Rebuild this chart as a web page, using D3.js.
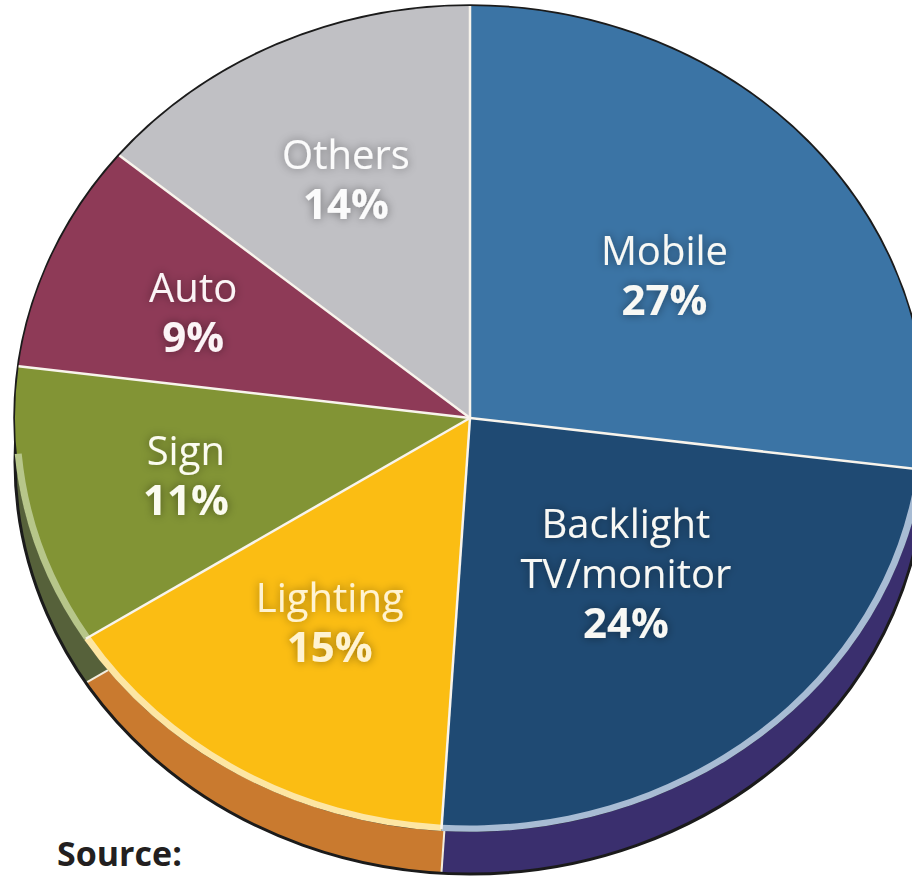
<!DOCTYPE html>
<html>
<head>
<meta charset="utf-8">
<script src="https://cdn.jsdelivr.net/npm/d3@7"></script>
<style>
  body { margin: 0; background: #fff; }
  svg { display: block; font-family: "Open Sans", "Noto Sans", sans-serif; }
</style>
</head>
<body>
<script>
// Data (clockwise from 12 o'clock)
const categories = ["Mobile", "Backlight TV/monitor", "Lighting", "Sign", "Auto", "Others"];
const shares = [27, 24, 15, 11, 9, 14];
const nameLines = [["Mobile"], ["Backlight", "TV/monitor"], ["Lighting"], ["Sign"], ["Auto"], ["Others"]];

// Colours of the top face, the side wall and the rim highlight
const topColors = ["#3b74a5", "#1f4a73", "#fbbd13", "#829435", "#8e3a57", "#c0c0c4"];
const sideColors = ["#2f5f8c", "#3a2f6e", "#c97a2f", "#56613a", "#6b2a40", "#9a9aa0"];
const rimColors = ["#a9c3dc", "#a8bcd4", "#fde6a3", "#b7c68a", "#c98aa0", "#e2e2e6"];
const textColors = ["#f8f8f4", "#f8f8f4", "#fff3d2", "#fbfbf0", "#fbf4f6", "#fbfbfb"];
// where each label sits: fraction of radius and a small turn (degrees) off the mid angle
const labelRadius = [0.55, 0.51, 0.585, 0.64, 0.66, 0.64];
const labelTurn = [2.4, -2.6, 1.2, 0, -0.6, 0];

const width = 912, height = 877;
const cx = 470, cy = 418, r = 455, ry = 412, sy = ry / r, depth = 44;
const lineGap = 50, capH = 29;

const data = categories.map((c, i) => ({ key: c, value: shares[i], i: i }));

const svg = d3.select("body").append("svg")
    .attr("width", width)
    .attr("height", height);

// soft dark glow behind the labels
const filter = svg.append("defs").append("filter")
    .attr("id", "glow")
    .attr("x", "-30%").attr("y", "-40%")
    .attr("width", "160%").attr("height", "180%");
filter.append("feGaussianBlur").attr("in", "SourceAlpha").attr("stdDeviation", 5).attr("result", "b");
filter.append("feFlood").attr("flood-color", "#000").attr("flood-opacity", 0.42);
filter.append("feComposite").attr("in2", "b").attr("operator", "in");
const merge = filter.append("feMerge");
merge.append("feMergeNode");
merge.append("feMergeNode").attr("in", "SourceGraphic");

const pie = d3.pie().sort(null).value(d => d.value);
const arcs = pie(data);
const arc = d3.arc().innerRadius(0).outerRadius(r);

// Side wall: the same pie pushed down by the depth
const side = svg.append("g")
    .attr("transform", `translate(${cx},${cy + depth}) scale(1,${sy})`);

side.selectAll("path.side")
    .data(arcs)
    .join("path")
    .attr("class", "side")
    .attr("d", arc)
    .attr("fill", d => sideColors[d.data.i]);

side.selectAll("line.sep")
    .data(arcs)
    .join("line")
    .attr("class", "sep")
    .attr("x2", d => d3.pointRadial(d.startAngle, r)[0])
    .attr("y2", d => d3.pointRadial(d.startAngle, r)[1])
    .attr("stroke", "#f3ecdc")
    .attr("stroke-width", 2)
    .attr("vector-effect", "non-scaling-stroke");

side.append("circle")
    .attr("r", r)
    .attr("fill", "none")
    .attr("stroke", "#1b1b1b")
    .attr("stroke-width", 3)
    .attr("vector-effect", "non-scaling-stroke");

// Top face
const topFace = svg.append("g")
    .attr("transform", `translate(${cx},${cy}) scale(1,${sy})`);

topFace.append("circle")
    .attr("r", r)
    .attr("fill", "none")
    .attr("stroke", "#1b1b1b")
    .attr("stroke-width", 3.5)
    .attr("vector-effect", "non-scaling-stroke");

topFace.selectAll("path.slice")
    .data(arcs)
    .join("path")
    .attr("class", "slice")
    .attr("d", arc)
    .attr("fill", d => topColors[d.data.i]);

// light rim along the front edge
const rimFrom = 95 * Math.PI / 180, rimTo = 265 * Math.PI / 180;
const rimArc = d3.arc().innerRadius(r - 5).outerRadius(r + 2);
topFace.selectAll("path.rim")
    .data(arcs.filter(d => d.endAngle > rimFrom && d.startAngle < rimTo))
    .join("path")
    .attr("class", "rim")
    .attr("d", d => rimArc({ startAngle: Math.max(d.startAngle, rimFrom), endAngle: Math.min(d.endAngle, rimTo) }))
    .attr("fill", d => rimColors[d.data.i]);

topFace.selectAll("line.sep")
    .data(arcs)
    .join("line")
    .attr("class", "sep")
    .attr("x2", d => d3.pointRadial(d.startAngle, r)[0])
    .attr("y2", d => d3.pointRadial(d.startAngle, r)[1])
    .attr("stroke", "#f8f4ec")
    .attr("stroke-width", 2.5)
    .attr("vector-effect", "non-scaling-stroke");

// Labels
svg.append("g")
    .selectAll("text")
    .data(arcs)
    .join("text")
    .attr("text-anchor", "middle")
    .attr("fill", d => textColors[d.data.i])
    .attr("filter", "url(#glow)")
    .each(function(d) {
        const mid = (d.startAngle + d.endAngle) / 2 + labelTurn[d.data.i] * Math.PI / 180;
        const p = d3.pointRadial(mid, r * labelRadius[d.data.i]);
        const x = cx + p[0];
        const yc = cy + p[1] * sy;
        const lines = nameLines[d.data.i];
        const n = lines.length + 1;
        const y0 = yc - ((n - 1) * lineGap - capH) / 2;
        const t = d3.select(this);
        lines.forEach((ln, k) => {
            t.append("tspan")
                .attr("x", x)
                .attr("y", y0 + k * lineGap)
                .style("font-size", "40px")
                .text(ln);
        });
        t.append("tspan")
            .attr("x", x)
            .attr("y", y0 + lines.length * lineGap)
            .style("font-size", "42px")
            .style("font-weight", "bold")
            .text(d.data.value + "%");
    });

svg.append("text")
    .attr("x", 57)
    .attr("y", 866)
    .attr("fill", "#231f20")
    .style("font-size", "34px")
    .style("font-weight", "bold")
    .text("Source:");
</script>
</body>
</html>
